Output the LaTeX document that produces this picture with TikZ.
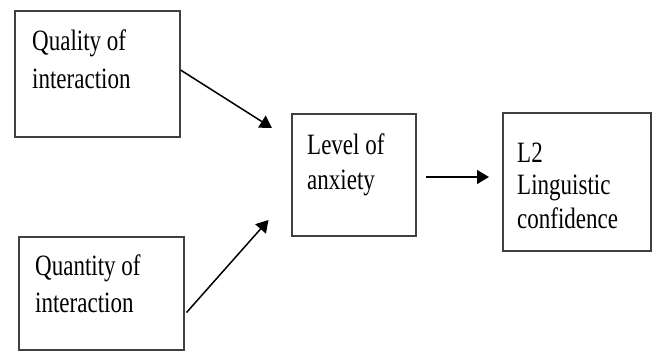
\documentclass[tikz,border=0pt]{standalone}
\usepackage{fontspec}
\setmainfont{Liberation Serif}
\usetikzlibrary{arrows.meta}
\newcommand{\narrowtxt}[1]{\scalebox{0.78}[1]{#1}}
\begin{document}
\begin{tikzpicture}[x=1pt,y=-1pt,
  boxstyle/.style={draw=black!75, line width=1.1pt, rectangle, inner sep=0pt},
  txt/.style={anchor=base west, inner sep=0pt, font=\fontsize{29.5}{34}\selectfont},
  arr/.style={-{Triangle[length=12pt,width=14pt]}, line width=1.5pt, black}]
\useasboundingbox (0,0) rectangle (654,352);
% boxes
\node[boxstyle, minimum width=165pt, minimum height=126pt] (b1) at (97.5,74) {};
\node[boxstyle, minimum width=165pt, minimum height=113pt] (b2) at (101.5,293.5) {};
\node[boxstyle, minimum width=124pt, minimum height=122pt] (b3) at (354,175) {};
\node[boxstyle, minimum width=148pt, minimum height=138pt] (b4) at (577,182) {};
% texts
\node[txt] (t1a) at (32,51) {\narrowtxt{Quality of}};
\node[txt] (t1b) at (32,89) {\narrowtxt{interaction}};
\node[txt] (t2a) at (35,276) {\narrowtxt{Quantity of}};
\node[txt] (t2b) at (35,313) {\narrowtxt{interaction}};
\node[txt] (t3a) at (307,155) {\narrowtxt{Level of}};
\node[txt] (t3b) at (307,190) {\narrowtxt{anxiety}};
\node[txt] (t4a) at (517,163) {\narrowtxt{L2}};
\node[txt] (t4b) at (517,195) {\narrowtxt{Linguistic}};
\node[txt] (t4c) at (517,229) {\narrowtxt{confidence}};
% arrow tips
\coordinate (tip1) at (272,128);
\coordinate (tip2) at (268.5,220);
\coordinate (tip3) at (489,177);
% arrows
\draw[arr] ([yshift=4pt]b1.east) -- (tip1);
\draw[arr] ([xshift=2pt,yshift=-19pt]b2.east) -- (tip2);
\draw[arr] ([xshift=9pt,yshift=-2pt]b3.east) -- (tip3);
\end{tikzpicture}
\end{document}
